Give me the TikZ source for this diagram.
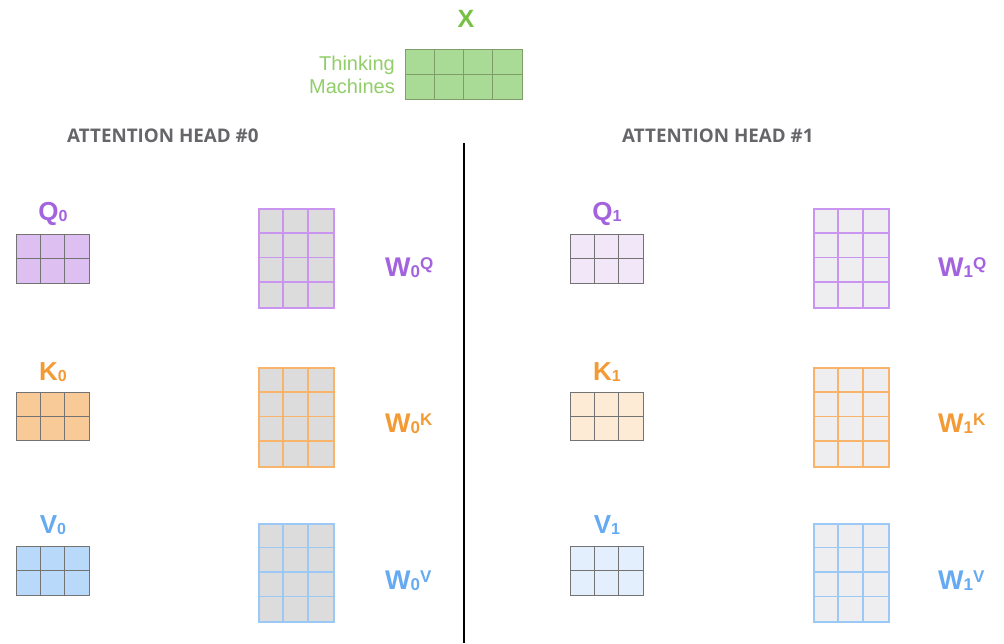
\documentclass[tikz,border=0pt]{standalone}
\usepackage{fontspec}
\setmainfont{Liberation Sans}
\newfontfamily\headfont{Open Sans}
\usetikzlibrary{calc,positioning}

\definecolor{qpurple}{HTML}{A463DE}
\definecolor{kor}{HTML}{F39A35}
\definecolor{vblue}{HTML}{66AAF2}
\definecolor{xgreen}{HTML}{76C043}
\definecolor{wqline}{HTML}{C995F0}
\definecolor{wkline}{HTML}{F8B46A}
\definecolor{wvline}{HTML}{9CC8F5}
\definecolor{qfillA}{HTML}{DDBFF2}
\definecolor{qfillB}{HTML}{F1E7F8}
\definecolor{kfillA}{HTML}{F8CA98}
\definecolor{kfillB}{HTML}{FDEBD5}
\definecolor{vfillA}{HTML}{B9D9FA}
\definecolor{vfillB}{HTML}{E3EFFC}
\definecolor{wfillA}{HTML}{DCDCDC}
\definecolor{wfillB}{HTML}{EEEEF0}
\definecolor{xfill}{HTML}{A9DB96}
\definecolor{headgray}{HTML}{66666A}

% grid of cells: name, top-left, cols, rows, cell w, cell h, style
\newcommand{\cellgrid}[7]{%
  \node[#7,anchor=north west,inner sep=0pt,minimum width=#3*#5pt,minimum height=#4*#6pt] (#1) at (#2) {};
  \pgfmathtruncatemacro{\lastc}{#3-1}
  \pgfmathtruncatemacro{\lastr}{#4-1}
  \foreach \c in {1,...,\lastc}
    \draw[#7,fill=none] ($(#1.north west)+(\c*#5,0)$) -- ($(#1.south west)+(\c*#5,0)$);
  \foreach \r in {1,...,\lastr}
    \draw[#7,fill=none] ($(#1.north west)+(0,\r*#6)$) -- ($(#1.north east)+(0,\r*#6)$);
}
% labels with index
\newcommand{\vecname}[2]{#1\raisebox{-1.5pt}{\fontsize{16}{16}\selectfont #2}}
\newcommand{\wname}[2]{W\raisebox{-1.5pt}{\fontsize{17}{17}\selectfont #1}\raisebox{7pt}{\fontsize{17}{17}\selectfont #2}}

\tikzset{
  smallmat/.style={draw=black!55,line width=0.9pt,fill=#1},
  wmat/.style={draw=#1,line width=1.9pt},
  namelbl/.style={font=\fontsize{26}{28}\selectfont\bfseries,text=#1,inner sep=0pt,anchor=base},
  wlbl/.style={font=\fontsize{27}{29}\selectfont\bfseries,text=#1,inner sep=0pt,anchor=base west},
  headlbl/.style={font=\headfont\fontsize{18.8}{20}\selectfont\bfseries,text=headgray,inner sep=0pt,anchor=base west}
}

\begin{document}
\begin{tikzpicture}[x=1pt,y=-1pt]
  \useasboundingbox (0,0) rectangle (1004,643);

  % input
  \node[namelbl=xgreen,font=\fontsize{25}{27}\selectfont\bfseries] (xlbl) at (466,27) {X};
  \cellgrid{xmat}{405,49}{4}{2}{29.25}{25}{draw=black!40!xgreen!70,line width=0.9pt,fill=xfill}
  \node[left=10pt of xmat,inner sep=0pt,align=right,text=xgreen!80,
    font=\fontsize{20}{23}\selectfont] (xtext) {Thinking\\Machines};

  % heads
  \node[headlbl] (headA) at (67,142) {ATTENTION HEAD \#0};
  \node[headlbl] (headB) at (622,142) {ATTENTION HEAD \#1};
  \coordinate (divtop) at (464,143);
  \coordinate (divbot) at (464,643);
  \draw[line width=1.6pt] (divtop) -- (divbot);

  % head 0
  \node[namelbl=qpurple] (qA) at (53,220) {\vecname{Q}{0}};
  \node[namelbl=kor] (kA) at (53,380) {\vecname{K}{0}};
  \node[namelbl=vblue] (vA) at (53,533) {\vecname{V}{0}};
  \cellgrid{qmatA}{16,234}{3}{2}{24.33}{24.5}{smallmat=qfillA}
  \cellgrid{kmatA}{16,392}{3}{2}{24.33}{24}{smallmat=kfillA}
  \cellgrid{vmatA}{16,546}{3}{2}{24.33}{24.5}{smallmat=vfillA}
  \cellgrid{wqA}{258,208}{3}{4}{25}{24.75}{wmat=wqline,fill=wfillA}
  \cellgrid{wkA}{258,367}{3}{4}{25}{24.75}{wmat=wkline,fill=wfillA}
  \cellgrid{wvA}{258,523}{3}{4}{25}{24.5}{wmat=wvline,fill=wfillA}
  \node[wlbl=qpurple] (wqlA) at (385,276) {\wname{0}{Q}};
  \node[wlbl=kor] (wklA) at (385,432) {\wname{0}{K}};
  \node[wlbl=vblue] (wvlA) at (385,589) {\wname{0}{V}};

  % head 1
  \node[namelbl=qpurple] (qB) at (607,220) {\vecname{Q}{1}};
  \node[namelbl=kor] (kB) at (607,380) {\vecname{K}{1}};
  \node[namelbl=vblue] (vB) at (607,533) {\vecname{V}{1}};
  \cellgrid{qmatB}{570,234}{3}{2}{24.33}{24.5}{smallmat=qfillB}
  \cellgrid{kmatB}{570,392}{3}{2}{24.33}{24}{smallmat=kfillB}
  \cellgrid{vmatB}{570,546}{3}{2}{24.33}{24.5}{smallmat=vfillB}
  \cellgrid{wqB}{813,208}{3}{4}{25}{24.75}{wmat=wqline,fill=wfillB}
  \cellgrid{wkB}{813,367}{3}{4}{25}{24.75}{wmat=wkline,fill=wfillB}
  \cellgrid{wvB}{813,523}{3}{4}{25}{24.5}{wmat=wvline,fill=wfillB}
  \node[wlbl=qpurple] (wqlB) at (938,276) {\wname{1}{Q}};
  \node[wlbl=kor] (wklB) at (938,432) {\wname{1}{K}};
  \node[wlbl=vblue] (wvlB) at (938,589) {\wname{1}{V}};
\end{tikzpicture}
\end{document}
